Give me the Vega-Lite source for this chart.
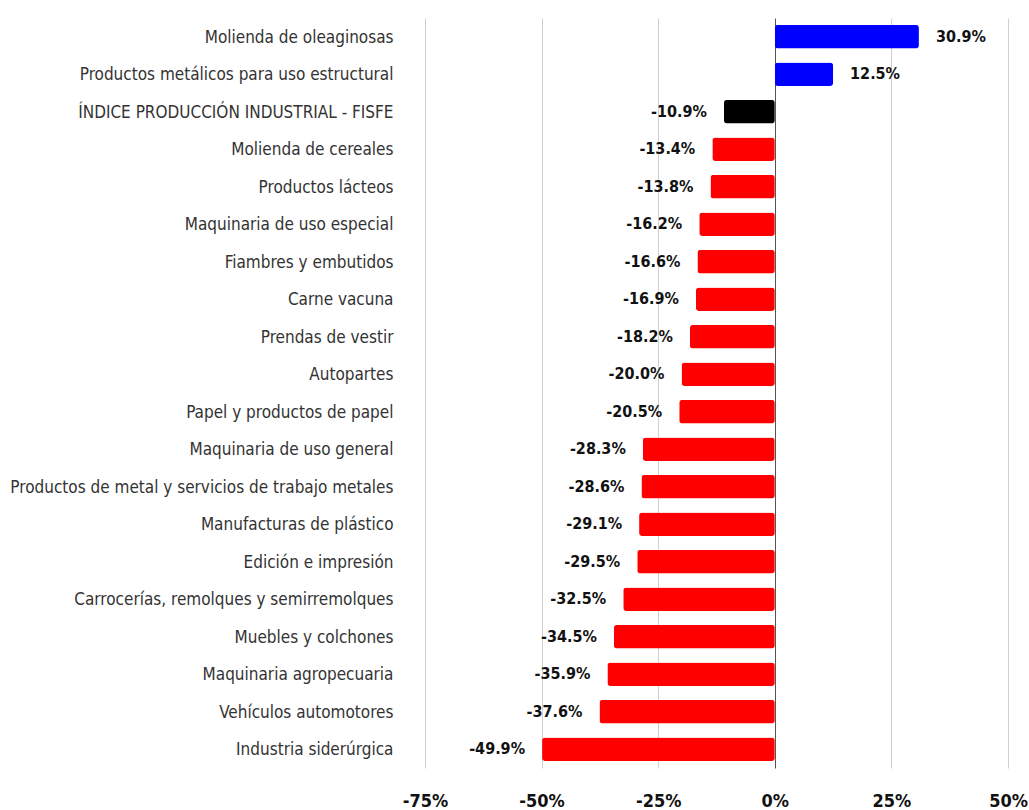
{
  "$schema": "https://vega.github.io/schema/vega-lite/v6.json",
  "autosize": {"type": "none"},
  "padding": {"left": 425, "top": 18, "right": 21, "bottom": 42},
  "width": 583,
  "height": 750,
  "background": "white",
  "config": {"view": {"stroke": null}},
  "data": {"values": [
    {"cat": "Molienda de oleaginosas", "v": 30.9, "g": "pos"},
    {"cat": "Productos metálicos para uso estructural", "v": 12.5, "g": "pos"},
    {"cat": "ÍNDICE PRODUCCIÓN INDUSTRIAL - FISFE", "v": -10.9, "g": "idx"},
    {"cat": "Molienda de cereales", "v": -13.4, "g": "neg"},
    {"cat": "Productos lácteos", "v": -13.8, "g": "neg"},
    {"cat": "Maquinaria de uso especial", "v": -16.2, "g": "neg"},
    {"cat": "Fiambres y embutidos", "v": -16.6, "g": "neg"},
    {"cat": "Carne vacuna", "v": -16.9, "g": "neg"},
    {"cat": "Prendas de vestir", "v": -18.2, "g": "neg"},
    {"cat": "Autopartes", "v": -20.0, "g": "neg"},
    {"cat": "Papel y productos de papel", "v": -20.5, "g": "neg"},
    {"cat": "Maquinaria de uso general", "v": -28.3, "g": "neg"},
    {"cat": "Productos de metal y servicios de trabajo metales", "v": -28.6, "g": "neg"},
    {"cat": "Manufacturas de plástico", "v": -29.1, "g": "neg"},
    {"cat": "Edición e impresión", "v": -29.5, "g": "neg"},
    {"cat": "Carrocerías, remolques y semirremolques", "v": -32.5, "g": "neg"},
    {"cat": "Muebles y colchones", "v": -34.5, "g": "neg"},
    {"cat": "Maquinaria agropecuaria", "v": -35.9, "g": "neg"},
    {"cat": "Vehículos automotores", "v": -37.6, "g": "neg"},
    {"cat": "Industria siderúrgica", "v": -49.9, "g": "neg"}
  ]},
  "transform": [
    {"calculate": "replace(format(datum.v, '.1f'), '\u2212', '-') + '%'", "as": "lbl"}
  ],
  "encoding": {
    "y": {
      "field": "cat", "type": "nominal", "sort": null, "title": null,
      "scale": {"paddingInner": 0.37, "paddingOuter": 0.185},
      "axis": {"domain": false, "ticks": false, "labelFont": "DejaVu Sans Condensed, Liberation Sans", "labelFontSize": 17, "labelColor": "#333333", "labelPadding": 32, "labelLimit": 450, "labelOffset": 1}
    }
  },
  "layer": [
    {
      "mark": {"type": "bar", "cornerRadius": 3},
      "encoding": {
        "x": {
          "field": "v", "type": "quantitative", "title": null,
          "scale": {"domain": [-75, 50], "nice": false, "zero": false},
          "axis": {"values": [-75, -50, -25, 0, 25, 50], "labelExpr": "datum.value + '%'", "labelFlush": false, "labelOverlap": false, "labelBound": false, "domain": false, "ticks": false, "grid": true, "gridColor": {"condition": {"test": "datum.value === 0", "value": "#555555"}, "value": "#d0d0d0"}, "gridWidth": 1, "labelFont": "DejaVu Sans Condensed, Liberation Sans", "labelFontSize": 18, "labelFontWeight": "bold", "labelColor": "#111111", "labelPadding": 24}
        },
        "color": {"field": "g", "type": "nominal", "legend": null, "scale": {"domain": ["pos", "idx", "neg"], "range": ["#0000FF", "#000000", "#FF0000"]}}
      }
    },
    {
      "transform": [{"filter": "datum.v < 0"}],
      "mark": {"type": "text", "font": "DejaVu Sans Condensed, Liberation Sans", "fontSize": 16, "fontWeight": "bold", "color": "#111111", "align": "right", "dx": -17},
      "encoding": {
        "x": {"field": "v", "type": "quantitative"},
        "text": {"field": "lbl", "type": "nominal"}
      }
    },
    {
      "transform": [{"filter": "datum.v >= 0"}],
      "mark": {"type": "text", "font": "DejaVu Sans Condensed, Liberation Sans", "fontSize": 16, "fontWeight": "bold", "color": "#111111", "align": "left", "dx": 17},
      "encoding": {
        "x": {"field": "v", "type": "quantitative"},
        "text": {"field": "lbl", "type": "nominal"}
      }
    }
  ]
}
